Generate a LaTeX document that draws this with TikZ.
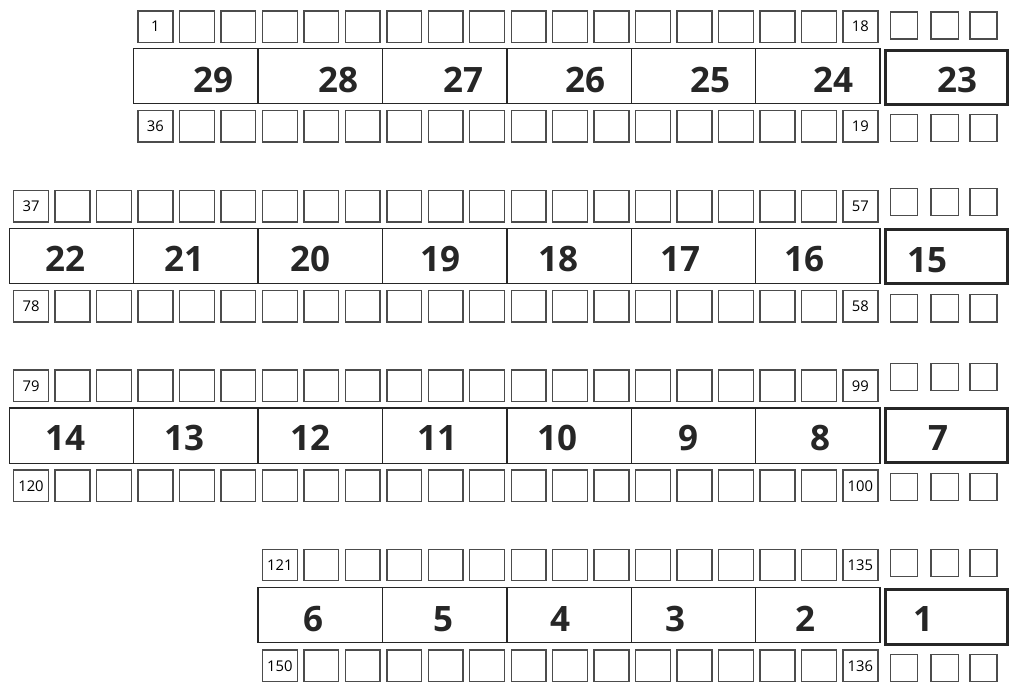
\documentclass[tikz,border=0pt]{standalone}
\usepackage{fontspec}
\setmainfont{Open Sans}
\usepackage{tikz}

\begin{document}
\begin{tikzpicture}[
  x=0.5pt, y=-0.5pt,
  cell/.style={
    draw=black!70,
    line width=0.7pt,
    minimum width=17.4pt,
    minimum height=15.7pt,
    inner sep=0pt,
    font=\fontsize{7.4}{8}\selectfont
  },
  endcell/.style={
    draw=black!70,
    line width=0.7pt,
    minimum size=13.6pt,
    inner sep=0pt
  },
  seg/.style={
    draw=black!85,
    line width=0.7pt,
    minimum width=62.2pt,
    minimum height=27.6pt,
    inner sep=0pt
  },
  endseg/.style={
    draw=black!85,
    line width=1.5pt,
    minimum width=61pt,
    minimum height=27.2pt,
    inner sep=0pt
  },
  seglabel/.style={
    font=\fontsize{17.5}{20}\selectfont\bfseries,
    text=black!85,
    inner sep=0pt
  }
]

\useasboundingbox (0,0) rectangle (1009,688);

% row 1
\foreach \k in {3,...,20} {
  \node[cell] (top1-\k) at (31+41.47*\k, 26.7) {\ifnum\k=3 1\fi\ifnum\k=20 18\fi};
  \node[cell] (bot1-\k) at (31+41.47*\k, 126.5) {\ifnum\k=3 36\fi\ifnum\k=20 19\fi};
}
\foreach \s/\lab/\lx in {1/29/213, 2/28/338, 3/27/463, 4/26/585, 5/25/710, 6/24/833} {
  \node[seg] (bar1-\s) at (71.5+124.4*\s, 76) {};
  \node[seglabel] (num1-\s) at (\lx, 80) {\lab};
}
\node[endseg] (end1) at (946.5, 77.5) {};
\node[seglabel] (endnum1) at (957, 80) {23};
\foreach \j/\ex in {1/904, 2/944.7, 3/983.5} {
  \node[endcell] (etop1-\j) at (\ex, 25.5) {};
  \node[endcell] (ebot1-\j) at (\ex, 128) {};
}

% row 2
\foreach \k in {0,...,20} {
  \node[cell] (top2-\k) at (31+41.47*\k, 206.2) {\ifnum\k=0 37\fi\ifnum\k=20 57\fi};
  \node[cell] (bot2-\k) at (31+41.47*\k, 306.3) {\ifnum\k=0 78\fi\ifnum\k=20 58\fi};
}
\foreach \s/\lab/\lx in {0/22/65, 1/21/184, 2/20/310, 3/19/440, 4/18/558, 5/17/680, 6/16/804} {
  \node[seg] (bar2-\s) at (71.5+124.4*\s, 256) {};
  \node[seglabel] (num2-\s) at (\lx, 258.7) {\lab};
}
\node[endseg] (end2) at (946.5, 256.5) {};
\node[seglabel] (endnum2) at (927, 260) {15};
\foreach \j/\ex in {1/904, 2/944.7, 3/983.5} {
  \node[endcell] (etop2-\j) at (\ex, 202) {};
  \node[endcell] (ebot2-\j) at (\ex, 308.3) {};
}

% row 3
\foreach \k in {0,...,20} {
  \node[cell] (top3-\k) at (31+41.47*\k, 385.8) {\ifnum\k=0 79\fi\ifnum\k=20 99\fi};
  \node[cell] (bot3-\k) at (31+41.47*\k, 485.8) {\ifnum\k=0 120\fi\ifnum\k=20 100\fi};
}
\foreach \s/\lab/\lx in {0/14/65, 1/13/184, 2/12/310, 3/11/437, 4/10/557, 5/9/688, 6/8/820} {
  \node[seg] (bar3-\s) at (71.5+124.4*\s, 435.8) {};
  \node[seglabel] (num3-\s) at (\lx, 438.3) {\lab};
}
\node[endseg] (end3) at (946.5, 435.3) {};
\node[seglabel] (endnum3) at (938, 438) {7};
\foreach \j/\ex in {1/904, 2/944.7, 3/983.5} {
  \node[endcell] (etop3-\j) at (\ex, 377) {};
  \node[endcell] (ebot3-\j) at (\ex, 487) {};
}

% row 4
\foreach \k in {6,...,20} {
  \node[cell] (top4-\k) at (31+41.47*\k, 565) {\ifnum\k=6 121\fi\ifnum\k=20 135\fi};
  \node[cell] (bot4-\k) at (31+41.47*\k, 665.8) {\ifnum\k=6 150\fi\ifnum\k=20 136\fi};
}
\foreach \s/\lab/\lx in {2/6/313, 3/5/443, 4/4/560, 5/3/675, 6/2/805} {
  \node[seg] (bar4-\s) at (71.5+124.4*\s, 615) {};
  \node[seglabel] (num4-\s) at (\lx, 619) {\lab};
}
\node[endseg] (end4) at (946.5, 617) {};
\node[seglabel] (endnum4) at (923, 619.5) {1};
\foreach \j/\ex in {1/904, 2/944.7, 3/983.5} {
  \node[endcell] (etop4-\j) at (\ex, 563) {};
  \node[endcell] (ebot4-\j) at (\ex, 668) {};
}

\end{tikzpicture}
\end{document}
